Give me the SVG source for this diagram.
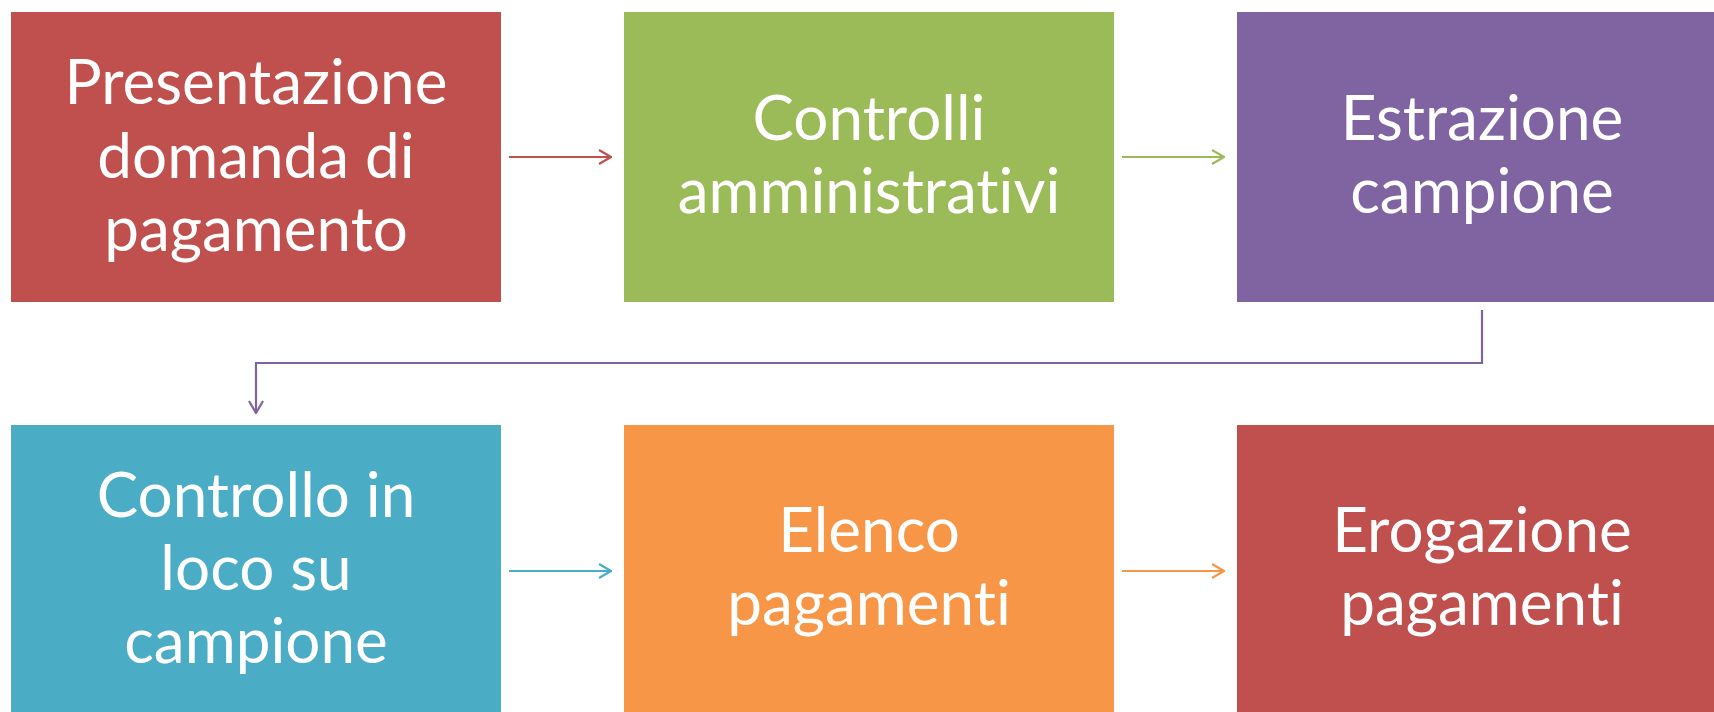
<svg xmlns="http://www.w3.org/2000/svg" width="1714" height="712" viewBox="0 0 1714 712">
<style>
.lbl{font-family:"Lato","Open Sans","Liberation Sans",sans-serif;font-size:62px;fill:#ffffff;text-anchor:middle;font-variant-ligatures:none;font-feature-settings:"liga" 0}
.c{fill:none;stroke-width:2.2}
</style>
<defs>
<marker id="aR" viewBox="0 0 14 16" refX="13" refY="8" markerWidth="14" markerHeight="16" markerUnits="userSpaceOnUse" orient="auto"><path d="M1,1 L13,8 L1,15" fill="none" stroke="#C0504D" stroke-width="2.2"/></marker>
<marker id="aG" viewBox="0 0 14 16" refX="13" refY="8" markerWidth="14" markerHeight="16" markerUnits="userSpaceOnUse" orient="auto"><path d="M1,1 L13,8 L1,15" fill="none" stroke="#9BBB59" stroke-width="2.2"/></marker>
<marker id="aP" viewBox="0 0 14 16" refX="13" refY="8" markerWidth="14" markerHeight="16" markerUnits="userSpaceOnUse" orient="auto"><path d="M1,1 L13,8 L1,15" fill="none" stroke="#8064A2" stroke-width="2.2"/></marker>
<marker id="aB" viewBox="0 0 14 16" refX="13" refY="8" markerWidth="14" markerHeight="16" markerUnits="userSpaceOnUse" orient="auto"><path d="M1,1 L13,8 L1,15" fill="none" stroke="#4BACC6" stroke-width="2.2"/></marker>
<marker id="aO" viewBox="0 0 14 16" refX="13" refY="8" markerWidth="14" markerHeight="16" markerUnits="userSpaceOnUse" orient="auto"><path d="M1,1 L13,8 L1,15" fill="none" stroke="#F79646" stroke-width="2.2"/></marker>
</defs>
<rect width="1714" height="712" fill="#ffffff"/>
<g id="n1"><rect x="11" y="12" width="490" height="290" fill="#C0504D"/>
<text class="lbl"><tspan x="256" y="104">Presentazione</tspan><tspan x="256" y="178">domanda di</tspan><tspan x="256" y="251">pagamento</tspan></text></g>
<g id="n2"><rect x="624" y="12" width="490" height="290" fill="#9BBB59"/>
<text class="lbl"><tspan x="869" y="140">Controlli</tspan><tspan x="869" y="213">amministrativi</tspan></text></g>
<g id="n3"><rect x="1237" y="12" width="490" height="290" fill="#8064A2"/>
<text class="lbl"><tspan x="1482" y="140">Estrazione</tspan><tspan x="1482" y="213">campione</tspan></text></g>
<g id="n4"><rect x="11" y="425" width="490" height="290" fill="#4BACC6"/>
<text class="lbl"><tspan x="256" y="517">Controllo in</tspan><tspan x="256" y="590">loco su</tspan><tspan x="256" y="663">campione</tspan></text></g>
<g id="n5"><rect x="624" y="425" width="490" height="290" fill="#F79646"/>
<text class="lbl"><tspan x="869" y="552">Elenco</tspan><tspan x="869" y="625">pagamenti</tspan></text></g>
<g id="n6"><rect x="1237" y="425" width="490" height="290" fill="#C0504D"/>
<text class="lbl"><tspan x="1482" y="552">Erogazione</tspan><tspan x="1482" y="625">pagamenti</tspan></text></g>
<g id="connectors">
<line class="c" x1="509" y1="157" x2="611" y2="157" stroke="#C0504D" marker-end="url(#aR)"/>
<line class="c" x1="1122" y1="157" x2="1224" y2="157" stroke="#9BBB59" marker-end="url(#aG)"/>
<polyline class="c" points="1482,310 1482,363 256,363 256,413" stroke="#8064A2" marker-end="url(#aP)"/>
<line class="c" x1="509" y1="571" x2="611" y2="571" stroke="#4BACC6" marker-end="url(#aB)"/>
<line class="c" x1="1122" y1="571" x2="1224" y2="571" stroke="#F79646" marker-end="url(#aO)"/>
</g>
</svg>
